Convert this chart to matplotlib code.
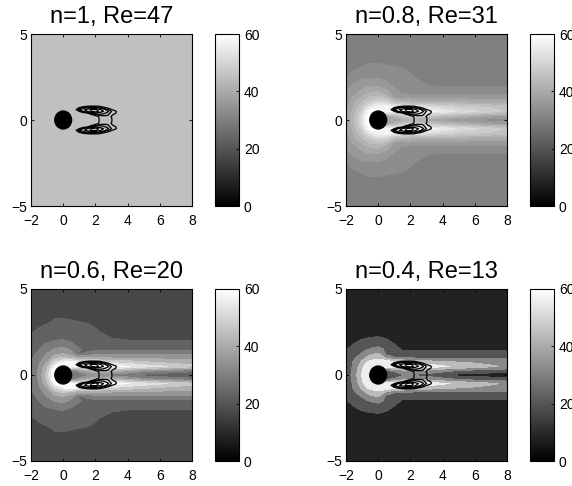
import numpy as np
import matplotlib
matplotlib.use('Agg')
import matplotlib.pyplot as plt
from matplotlib.cm import ScalarMappable
from matplotlib.colors import Normalize
from matplotlib.patches import Ellipse

plt.rcParams['font.family'] = ['Liberation Sans', 'DejaVu Sans']

## DATA ##

titles = ['n=1, Re=47', 'n=0.8, Re=31', 'n=0.6, Re=20', 'n=0.4, Re=13']
xticks = [-2, 0, 2, 4, 6, 8]
yticks = [-5, 0, 5]
cbar_ticks = [0, 20, 40, 60]
cylinder_radius = 0.52

# upper half of the field, mirrored around y=0 later on
grid_x = [-2, -1.5, -1, -0.75, -0.5, 0, 0.5, 1, 1.5, 2, 3, 4, 5, 6, 7, 8]
grid_y = [0, 0.25, 0.5, 0.75, 1, 1.25, 1.5, 1.75, 2, 2.5, 3, 3.5, 5]

field_n1 = [[45] * 16] * 13

field_n08 = [
    [37, 43, 52, 58, 60, 60, 38, 37, 39, 40, 39, 37, 35, 34, 33, 33],
    [37, 43, 51, 57, 60, 60, 40, 42, 46, 49, 47, 44, 42, 40, 38, 37],
    [37, 42, 48, 54, 60, 60, 58, 57, 57, 57, 57, 55, 52, 50, 48, 46],
    [36.5, 41, 46, 50, 54, 57, 59, 55, 54, 53, 52, 50, 48, 47, 46, 45],
    [36, 40, 44, 46, 48, 52, 50, 46, 44, 43, 43, 42, 42, 41, 41, 41],
    [35.5, 38.5, 41.5, 43, 44.5, 46, 44, 38, 37, 37, 37, 37, 37, 37, 37, 37],
    [35, 37, 39.5, 40.5, 41.5, 42, 40, 36, 34.5, 34.5, 34.5, 34.5, 34.5, 34.5, 34.5, 34.5],
    [34, 36, 37.5, 38.5, 39, 39.5, 37.5, 35, 33, 33, 33, 33, 33, 33, 33, 33],
    [33.5, 35, 36.5, 37, 37, 37, 35.5, 34, 33, 32.5, 31.6, 31, 31, 31, 31, 31],
    [31.8, 33, 33.8, 34, 34, 34, 33.5, 33, 32.5, 32, 30, 30, 30, 30, 30, 30],
    [30, 31, 31.8, 32, 32.2, 32.2, 32, 31.8, 31.5, 31, 30, 30, 30, 30, 30, 30],
    [30, 30, 30.5, 30.8, 31, 31, 30.8, 30.5, 30, 30, 30, 30, 30, 30, 30, 30],
    [30, 30, 30, 30, 30, 30, 30, 30, 30, 30, 30, 30, 30, 30, 30, 30],
]

field_n06 = [
    [26.5, 33.5, 46, 56, 60, 60, 28, 28, 30, 30, 29, 27, 24, 22, 21, 20.5],
    [26, 33, 45, 55, 60, 60, 30, 34, 40, 44, 42, 38, 34, 32, 30, 28],
    [26, 32.5, 42, 50, 58, 60, 57, 57, 57, 57, 57.5, 56.5, 53, 51, 49, 46],
    [25.5, 31, 38, 44, 50, 56, 60, 54, 52, 51, 49, 47, 45, 43, 41, 40],
    [25, 29, 35, 38, 42, 45, 42, 37.5, 37.5, 37.5, 37.5, 37, 37, 36.5, 36, 36],
    [24.5, 27, 32, 34, 36, 38, 34, 25, 28, 30, 30, 30, 30, 30, 30, 30],
    [24, 26, 29, 31, 32.5, 33.5, 31, 27, 23, 24.5, 25, 25, 25, 25, 25, 25],
    [23, 25, 27, 28, 29, 30.5, 27.5, 24, 22, 22, 22, 22, 22, 22, 22, 22],
    [21.5, 24, 25, 25.2, 26, 26.5, 25, 23, 22.5, 22, 21, 20.2, 20, 20, 20, 20],
    [19.5, 21, 22, 22.5, 23, 23.5, 23, 22, 21.5, 21, 17.5, 17, 17, 17, 17, 17],
    [17, 19, 20, 20.5, 21.5, 21.5, 21, 20.5, 20, 19, 17, 17, 17, 17, 17, 17],
    [17, 17, 17, 18, 19, 19, 18.5, 18, 17, 17, 17, 17, 17, 17, 17, 17],
    [17, 17, 17, 17, 17, 17, 17, 17, 17, 17, 17, 17, 17, 17, 17, 17],
]

field_n04 = [
    [18, 31, 51, 58, 60, 60, 22, 20, 24, 24, 22, 17, 10, 9, 8.5, 8],
    [17, 30, 50, 58, 60, 60, 25, 28, 35, 38, 35, 30, 25, 22, 20, 19],
    [16, 29, 46, 55, 60, 60, 55, 55, 58, 58, 58, 51.5, 48, 44.5, 40, 36],
    [15.5, 28, 40, 48, 55, 60, 58, 52, 50, 48, 44, 40, 38, 36, 34, 32],
    [15, 24, 34, 39, 41, 46, 36, 27, 26, 25, 25, 24, 24, 24, 24, 24],
    [15, 20, 27, 32, 36, 39, 22, 18, 17, 17, 17, 17, 17, 17, 17, 17],
    [13, 19, 22, 24, 27, 30, 24, 17, 13, 13, 13, 13, 13, 13, 13, 13],
    [10, 15, 18, 20, 21, 23, 20, 15, 10, 8, 8, 8, 8, 8, 8, 8],
    [8, 12, 15, 16, 17, 18, 16, 11, 8, 8, 8, 8, 8, 8, 8, 8],
    [8, 8, 8, 8, 9, 9, 8, 8, 8, 8, 8, 8, 8, 8, 8, 8],
    [8, 8, 8, 8, 8, 8, 8, 8, 8, 8, 8, 8, 8, 8, 8, 8],
    [8, 8, 8, 8, 8, 8, 8, 8, 8, 8, 8, 8, 8, 8, 8, 8],
    [8, 8, 8, 8, 8, 8, 8, 8, 8, 8, 8, 8, 8, 8, 8, 8],
]

# filled band edges of each panel
levels_n1 = [43, 47]
levels_n08 = [28.5, 31.5, 34.5, 37.5, 40.5, 43.5, 46.5, 49.5, 52.5, 55.5, 58.5, 61.5]
levels_n06 = [14, 20, 26, 32, 38, 44, 50, 56, 62]
levels_n04 = [2, 14, 26, 38, 50, 62]

# recirculation bubble lines, same in all panels
psi_x = [0.6, 0.8, 1, 1.25, 1.5, 1.75, 2, 2.25, 2.5, 2.75, 3, 3.25, 3.5]
psi_y = [0, 0.1, 0.2, 0.3, 0.4, 0.5, 0.6, 0.7, 0.8, 0.9]
psi = [
    [0, 0, 0, 0, 0, 0.2, 0.5, 1.05, 1.2, 1.2, 1.05, 0.5, 0],
    [0, 0, 0, 0, 0, 0.2, 0.5, 1.05, 1.2, 1.2, 1.05, 0.5, 0],
    [0, 0, 0, 0, 0.1, 0.3, 0.6, 1.1, 1.3, 1.3, 0.95, 0.4, 0],
    [0, 0, 0, 0.2, 0.5, 0.8, 1.3, 1.7, 1.7, 1.6, 1.2, 0.5, 0],
    [0, 0, 0.2, 0.5, 0.9, 1.8, 2.6, 2.6, 2.2, 1.8, 1.3, 1.1, 0.2],
    [0, 0.4, 1, 2, 3, 4, 4.6, 3.8, 3, 2.2, 1.5, 1.2, 0.2],
    [0, 1, 2, 2.8, 3.5, 4.2, 4.4, 3.4, 2.5, 1.7, 1.1, 0.5, 0],
    [0, 0.3, 1.2, 1.8, 2.2, 2.5, 2.4, 2, 1.4, 1, 0.4, 0, 0],
    [0, 0, 0.3, 0.7, 1, 1.1, 1.1, 1, 0.6, 0.3, 0, 0, 0],
    [0, 0, 0, 0, 0, 0, 0, 0, 0, 0, 0, 0, 0],
]
psi_levels = [1, 1.5, 2, 3, 4]

fields = [field_n1, field_n08, field_n06, field_n04]
levels = [levels_n1, levels_n08, levels_n06, levels_n04]

## FUNCTIONS ##

# axes rectangle from pixel edges of the 572x486 picture
def px_axes(fig, left, right, top, bottom):
    return fig.add_axes([left / 572, 1 - bottom / 486, (right - left) / 572, (bottom - top) / 486])

# mirror an upper half grid around y=0
def mirror(y, z):
    y = np.array(y, dtype=float)
    z = np.array(z, dtype=float)
    return np.concatenate([-y[:0:-1], y]), np.vstack([z[:0:-1], z])

## DRAWING ##

fig = plt.figure(figsize=(5.72, 4.86), dpi=100)

panel_left = [31, 346, 31, 346]
panel_top = [34, 34, 289, 289]
norm = Normalize(0, 60)

for i in range(4):
    left, top = panel_left[i], panel_top[i]
    ax = px_axes(fig, left, left + 161, top, top + 172)

    yy, zz = mirror(grid_y, fields[i])
    ax.contourf(grid_x, yy, zz, levels=levels[i], cmap='gray', norm=norm)

    py, pz = mirror(psi_y, psi)
    ax.contour(psi_x, py, pz, levels=psi_levels, colors='k', linewidths=0.9)
    ax.add_patch(Ellipse((0, 0), 2 * cylinder_radius, 2 * cylinder_radius, color='k', zorder=5))

    ax.set_xlim(-2, 8)
    ax.set_ylim(-5, 5)
    ax.set_xticks(xticks)
    ax.set_yticks(yticks)
    ax.tick_params(direction='in', top=True, right=True, length=2, width=0.6, labelsize=10)
    ax.tick_params(axis='x', pad=6)
    ax.tick_params(axis='y', pad=3)
    for spine in ax.spines.values():
        spine.set_linewidth(0.8)
    ax.set_title(titles[i], fontsize=17, pad=8)

    cax = px_axes(fig, left + 183.5, left + 208, top, top + 172)
    cb = fig.colorbar(ScalarMappable(norm=norm, cmap='gray'), cax=cax)
    cb.set_ticks(cbar_ticks)
    cb.ax.tick_params(direction='in', length=2, width=0.6, labelsize=10, pad=3.5)
    cb.outline.set_linewidth(0.8)

fig.savefig('out.png', dpi=100)
